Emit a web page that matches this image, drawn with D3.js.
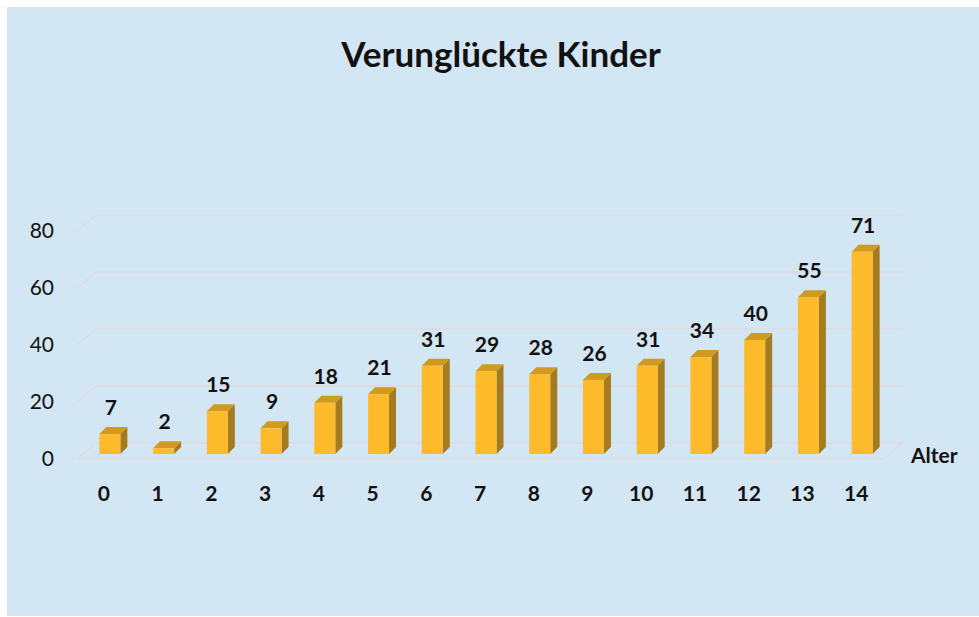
<!DOCTYPE html>
<html>
<head>
<meta charset="utf-8">
<script src="https://cdn.jsdelivr.net/npm/d3@7"></script>
<style>
  body { margin: 0; background: #fff; }
  text { font-family: Lato, "Open Sans", sans-serif; fill: #111; }
</style>
</head>
<body>
<script>
var width = 979;
var height = 617;

// data
var ages = ["0","1","2","3","4","5","6","7","8","9","10","11","12","13","14"];
var counts = [7, 2, 15, 9, 18, 21, 31, 29, 28, 26, 31, 34, 40, 55, 71];
var yTicks = [0, 20, 40, 60, 80];

var svg = d3.select('body').append('svg')
  .attr('width', width)
  .attr('height', height);

// background panel
svg.append('rect')
  .attr('x', 7).attr('y', 7)
  .attr('width', width - 7).attr('height', height - 8)
  .attr('fill', '#d3e6f3');

var floorY = 459;   // front edge of floor
var left = 77, right = 883;
var dx = 19, dy = -16; // depth of the floor

var x = d3.scaleBand().domain(ages).range([left, right]);
var y = d3.scaleLinear().domain([0, 80]).range([floorY, floorY - 228]);

var grid = svg.append('g')
  .attr('stroke', '#e2d9dc')
  .attr('stroke-width', 1.5)
  .attr('fill', 'none');

// back wall lines + left side diagonals
yTicks.forEach(function(t) {
  grid.append('line')
    .attr('x1', left + dx).attr('y1', y(t) + dy)
    .attr('x2', right + dx).attr('y2', y(t) + dy);
  grid.append('line')
    .attr('x1', left).attr('y1', y(t))
    .attr('x2', left + dx).attr('y2', y(t) + dy);
});
// floor front and right edge
grid.append('line')
  .attr('x1', left).attr('y1', floorY)
  .attr('x2', right).attr('y2', floorY);
grid.append('line')
  .attr('x1', right).attr('y1', floorY)
  .attr('x2', right + dx).attr('y2', floorY + dy);

// bars
var barW = 21, sideX = 7, sideY = -7;
var shiftX = 6, shiftY = -5;

var bars = svg.append('g').selectAll('g')
  .data(counts)
  .enter().append('g');

function bx(d, i) { return x(ages[i]) + x.bandwidth() / 2 + shiftX - barW / 2; }
function by0() { return floorY + shiftY; }
function by1(d) { return y(d) + shiftY; }

bars.append('path')  // side
  .attr('fill', '#a47c1f')
  .attr('d', function(d, i) {
    var x0 = bx(d, i) + barW, t = by1(d), b = by0();
    return 'M' + x0 + ',' + t + 'L' + (x0 + sideX) + ',' + (t + sideY) +
      'L' + (x0 + sideX) + ',' + (b + sideY) + 'L' + x0 + ',' + b + 'Z';
  });
bars.append('path')  // top
  .attr('fill', '#cf9a1f')
  .attr('d', function(d, i) {
    var x0 = bx(d, i), t = by1(d);
    return 'M' + x0 + ',' + t + 'L' + (x0 + sideX) + ',' + (t + sideY) +
      'L' + (x0 + barW + sideX) + ',' + (t + sideY) + 'L' + (x0 + barW) + ',' + t + 'Z';
  });
bars.append('rect')  // front
  .attr('fill', '#fdbb2b')
  .attr('x', bx)
  .attr('y', by1)
  .attr('width', barW)
  .attr('height', function(d) { return by0() - by1(d); });

// value labels
bars.append('text')
  .attr('x', function(d, i) { return bx(d, i) + barW / 2 + 1; })
  .attr('y', function(d) { return by1(d) - 19; })
  .attr('text-anchor', 'middle')
  .style('font-size', '21px')
  .style('font-weight', 'bold')
  .text(function(d) { return d; });

// y axis
var yAxis = svg.append('g')
  .attr('transform', 'translate(' + left + ',0)')
  .call(d3.axisLeft(y).tickValues(yTicks).tickSize(0).tickPadding(23));
yAxis.select('.domain').remove();
yAxis.selectAll('text')
  .style('font-size', '21px')
  .style('font-family', 'Lato, sans-serif')
  .attr('fill', '#1a1a1a');

// x axis
var xAxis = svg.append('g')
  .attr('transform', 'translate(0,' + floorY + ')')
  .call(d3.axisBottom(x).tickSize(0).tickPadding(27));
xAxis.select('.domain').remove();
xAxis.selectAll('text')
  .style('font-size', '21px')
  .style('font-weight', 'bold')
  .style('font-family', 'Lato, sans-serif')
  .attr('fill', '#111');

svg.append('text')
  .attr('x', 911).attr('y', 463)
  .style('font-size', '21px')
  .style('font-weight', 'bold')
  .text('Alter');

svg.append('text')
  .attr('x', 501).attr('y', 67)
  .attr('text-anchor', 'middle')
  .style('font-size', '35px')
  .style('font-weight', 'bold')
  .text('Verunglückte Kinder');
</script>
</body>
</html>
